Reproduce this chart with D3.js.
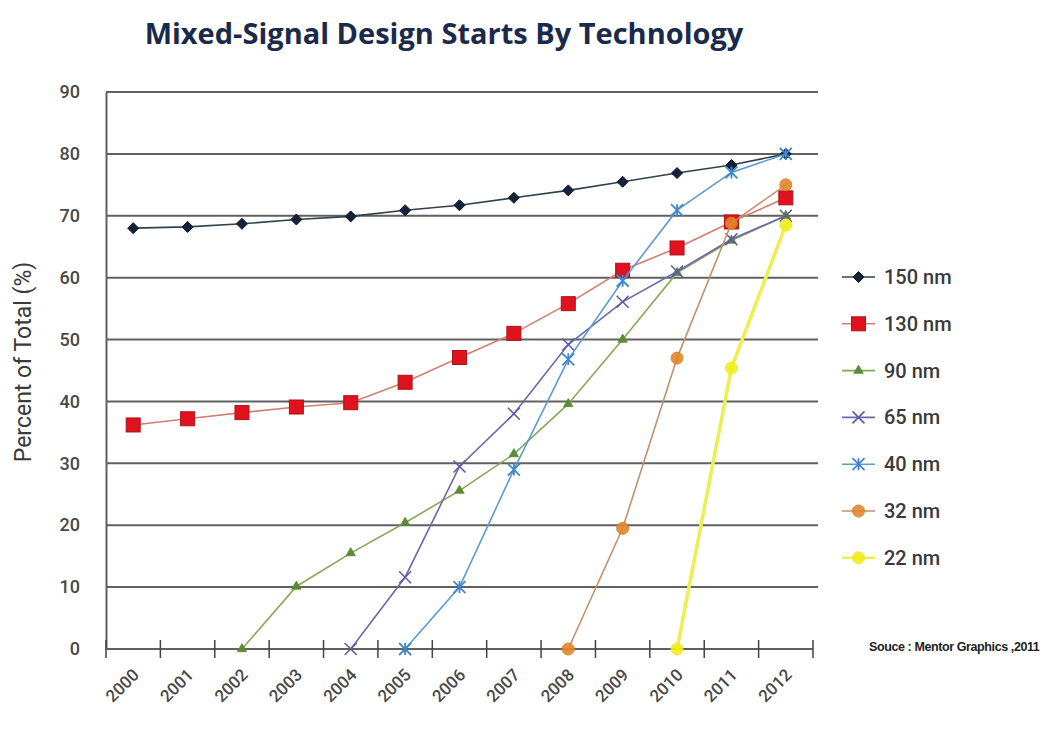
<!DOCTYPE html>
<html>
<head>
<meta charset="utf-8">
<script src="https://cdn.jsdelivr.net/npm/d3@7"></script>
<style>
  html, body { margin: 0; padding: 0; background: #fff; }
  svg { display: block; }
</style>
</head>
<body>
<svg id="chart" width="1060" height="732"></svg>
<script>
// Years on the category axis
const years = ["2000","2001","2002","2003","2004","2005","2006","2007","2008","2009","2010","2011","2012"];
const yTicks = [0,10,20,30,40,50,60,70,80,90];

// Share of mixed-signal design starts (%) per process node; null = not yet in use
const nm150 = [68, 68.2, 68.7, 69.4, 69.9, 70.9, 71.7, 72.9, 74.1, 75.5, 76.9, 78.2, 80];
const nm130 = [36.2, 37.2, 38.2, 39.1, 39.8, 43.1, 47.1, 51, 55.8, 61.2, 64.8, 69, 72.9];
const nm90  = [null, null, 0, 10.1, 15.5, 20.4, 25.6, 31.5, 39.6, 50, 60.8, 66, 70];
const nm65  = [null, null, null, null, 0, 11.6, 29.5, 38, 49.2, 56.1, 61, 66.2, 70];
const nm40  = [null, null, null, null, null, 0, 10, 29, 46.8, 59.5, 70.9, 77, 80];
const nm32  = [null, null, null, null, null, null, null, null, 0, 19.5, 47, 68.8, 75];
const nm22  = [null, null, null, null, null, null, null, null, null, null, 0, 45.4, 68.5];

const seriesNames = ["150 nm","130 nm","90 nm","65 nm","40 nm","32 nm","22 nm"];
const seriesValues = [nm150, nm130, nm90, nm65, nm40, nm32, nm22];

// Drawing styles per series
const styles = [
  { line: "#33414f", lw: 1.6, marker: "diamond",  fill: "#14233a", stroke: "#0c1626", size: 11 },
  { line: "#d0806e", lw: 1.6, marker: "square",   fill: "#e0121e", stroke: "#b0101a", size: 14 },
  { line: "#86a85a", lw: 1.6, marker: "triangle", fill: "#5d8a33", stroke: "#5d8a33", size: 8 },
  { line: "#6a6aa8", lw: 1.6, marker: "cross",    fill: "none",    stroke: "#5a5aa0", size: 12 },
  { line: "#5c9ad2", lw: 1.6, marker: "star",     fill: "none",    stroke: "#3f88cc", size: 12 },
  { line: "#c2916c", lw: 1.6, marker: "circle",   fill: "#e3862a", stroke: "#d87a20", size: 12 },
  { line: "#eeee50", lw: 3.5, marker: "circle",   fill: "#f2ee18", stroke: "#eee820", size: 12 }
];

const svg = d3.select("#chart");
const plotLeft = 106, plotRight = 813, plotTop = 92, plotBottom = 649;

const x = d3.scaleBand().domain(years).range([plotLeft, plotRight]).padding(0);
const cx = d => x(d) + x.bandwidth() / 2;
const y = d3.scaleLinear().domain([0, 90]).range([plotBottom, plotTop]);

// Title
svg.append("text")
  .attr("x", 444).attr("y", 44)
  .attr("text-anchor", "middle")
  .attr("font-family", "Open Sans, Lato, sans-serif")
  .attr("font-weight", "700")
  .attr("font-size", 29)
  .attr("fill", "#1b2a4a")
  .text("Mixed-Signal Design Starts By Technology");

// Horizontal gridlines
svg.append("g").selectAll("line")
  .data(yTicks.filter(t => t > 0))
  .join("line")
  .attr("x1", plotLeft).attr("x2", 818)
  .attr("y1", d => y(d)).attr("y2", d => y(d))
  .attr("stroke", "#606060").attr("stroke-width", 2);

// Y axis
const yAxis = svg.append("g")
  .attr("transform", `translate(${plotLeft},0)`)
  .call(d3.axisLeft(y).tickValues(yTicks).tickSize(0).tickPadding(26));
yAxis.select(".domain").attr("stroke", "#606060").attr("stroke-width", 2);
yAxis.selectAll("text")
  .attr("font-family", "Roboto, sans-serif")
  .attr("font-weight", "500")
  .attr("font-size", 18)
  .attr("fill", "#484848");

svg.append("text")
  .attr("transform", `translate(31,362) rotate(-90)`)
  .attr("text-anchor", "middle")
  .attr("font-family", "Roboto, sans-serif")
  .attr("font-size", 23)
  .attr("fill", "#3a3a3a")
  .text("Percent of Total (%)");

// X axis baseline and category boundary ticks
svg.append("line")
  .attr("x1", plotLeft).attr("x2", plotRight)
  .attr("y1", plotBottom).attr("y2", plotBottom)
  .attr("stroke", "#606060").attr("stroke-width", 2);
const bounds = years.map(d => x(d)).concat([x.range()[1]]);
svg.append("g").selectAll("line")
  .data(bounds)
  .join("line")
  .attr("x1", d => d).attr("x2", d => d)
  .attr("y1", plotBottom - 9).attr("y2", plotBottom + 9)
  .attr("stroke", "#444").attr("stroke-width", 1.5);

svg.append("g").selectAll("text")
  .data(years)
  .join("text")
  .attr("transform", d => `translate(${cx(d) + 7},${plotBottom + 27}) rotate(-45)`)
  .attr("text-anchor", "end")
  .attr("font-family", "Roboto, sans-serif")
  .attr("font-weight", "500")
  .attr("font-size", 17)
  .attr("fill", "#484848")
  .text(d => d);

// Marker drawing
function drawMarker(g, st) {
  const s = st.size;
  if (st.marker === "diamond") {
    const h = s / 2;
    g.append("path").attr("d", `M0,${-h}L${h},0L0,${h}L${-h},0Z`)
      .attr("fill", st.fill).attr("stroke", st.stroke).attr("stroke-width", 1);
  } else if (st.marker === "square") {
    g.append("rect").attr("x", -s / 2).attr("y", -s / 2).attr("width", s).attr("height", s)
      .attr("fill", st.fill).attr("stroke", st.stroke).attr("stroke-width", 1);
  } else if (st.marker === "triangle") {
    g.append("path").attr("d", d3.symbol(d3.symbolTriangle, s * s * 0.6)())
      .attr("fill", st.fill).attr("stroke", st.stroke).attr("stroke-width", 0.8);
  } else if (st.marker === "cross") {
    const h = s / 2;
    g.append("path").attr("d", `M${-h},${-h}L${h},${h}M${-h},${h}L${h},${-h}`)
      .attr("stroke", st.stroke).attr("stroke-width", 1.5).attr("fill", "none");
  } else if (st.marker === "star") {
    const h = s / 2;
    g.append("path").attr("d", `M${-h},${-h}L${h},${h}M${-h},${h}L${h},${-h}M0,${-h}L0,${h}`)
      .attr("stroke", st.stroke).attr("stroke-width", 1.8).attr("fill", "none");
  } else if (st.marker === "circle") {
    g.append("circle").attr("r", s / 2)
      .attr("fill", st.fill).attr("stroke", st.stroke).attr("stroke-width", 1).attr("opacity", 0.9);
  }
}

// Series lines and markers
const line = d3.line()
  .defined(d => d.v !== null)
  .x(d => cx(d.year))
  .y(d => y(d.v));

seriesValues.forEach((vals, i) => {
  const st = styles[i];
  const pts = years.map((yr, j) => ({ year: yr, v: vals[j] }));
  const g = svg.append("g");
  g.append("path")
    .datum(pts)
    .attr("d", line)
    .attr("fill", "none")
    .attr("stroke", st.line)
    .attr("stroke-width", st.lw);
  pts.filter(p => p.v !== null).forEach(p => {
    const m = g.append("g").attr("transform", `translate(${cx(p.year)},${y(p.v)})`);
    drawMarker(m, st);
  });
});

// Legend
const legend = svg.append("g");
seriesNames.forEach((name, i) => {
  const st = styles[i];
  const ly = 277 + i * 46.8;
  const row = legend.append("g");
  row.append("line")
    .attr("x1", 842).attr("x2", 875).attr("y1", ly).attr("y2", ly)
    .attr("stroke", st.line).attr("stroke-width", Math.min(st.lw, 2.5));
  drawMarker(row.append("g").attr("transform", `translate(858.5,${ly})`), st);
  row.append("text")
    .attr("x", 884).attr("y", ly + 7)
    .attr("font-family", "Roboto, sans-serif")
    .attr("font-weight", "500")
    .attr("font-size", 20)
    .attr("fill", "#3a3a3a")
    .text(name);
});

// Source note
svg.append("text")
  .attr("x", 869).attr("y", 651)
  .attr("font-family", "Liberation Sans Narrow, Arial Narrow, sans-serif")
  .attr("font-weight", "700")
  .attr("font-size", 12.5)
  .attr("letter-spacing", -0.4)
  .attr("fill", "#222")
  .text("Souce : Mentor Graphics ,2011");
</script>
</body>
</html>
